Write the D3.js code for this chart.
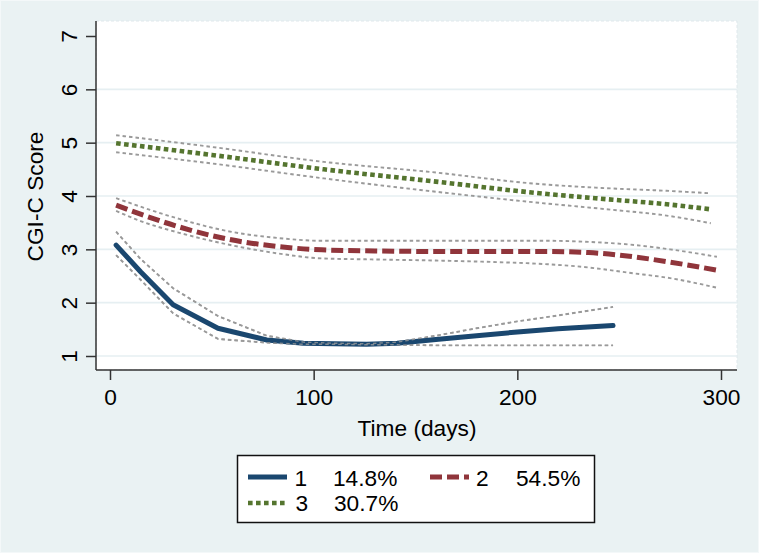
<!DOCTYPE html>
<html>
<head>
<meta charset="utf-8">
<script src="https://cdn.jsdelivr.net/npm/d3@7"></script>
<style>
  html, body { margin: 0; padding: 0; background: #eaf2f3; }
  svg { display: block; }
  text { font-family: "Liberation Sans", Arial, sans-serif; fill: #000; }
</style>
</head>
<body>
<svg id="chart" width="759" height="553"></svg>
<script>
// ---------- data ----------
const yTicks = [1, 2, 3, 4, 5, 6, 7];
const xTicks = [0, 100, 200, 300];

const s1Time  = [3, 15, 31, 53, 77, 95, 110, 126, 141, 160, 180, 200, 220, 247];
const s1Mean  = [3.08, 2.58, 1.96, 1.52, 1.30, 1.24, 1.23, 1.22, 1.24, 1.31, 1.38, 1.45, 1.51, 1.57];
const s1Upper = [3.33, 2.82, 2.27, 1.75, 1.38, 1.26, 1.24, 1.23, 1.26, 1.38, 1.52, 1.65, 1.76, 1.92];
const s1Lower = [2.89, 2.43, 1.80, 1.32, 1.25, 1.22, 1.22, 1.21, 1.21, 1.20, 1.20, 1.20, 1.20, 1.20];

const s2Time  = [3, 15, 34, 58, 83, 104, 130, 160, 190, 215, 235, 255, 275, 298];
const s2Mean  = [3.83, 3.66, 3.42, 3.19, 3.05, 2.99, 2.97, 2.96, 2.96, 2.96, 2.94, 2.87, 2.76, 2.61];
const s2Upper = [3.96, 3.80, 3.57, 3.34, 3.21, 3.16, 3.16, 3.16, 3.16, 3.16, 3.14, 3.09, 3.00, 2.86];
const s2Lower = [3.72, 3.53, 3.31, 3.09, 2.92, 2.83, 2.81, 2.79, 2.76, 2.72, 2.66, 2.56, 2.46, 2.28];

const s3Time  = [3, 50, 105, 160, 206, 247, 272, 295];
const s3Mean  = [4.99, 4.77, 4.50, 4.27, 4.07, 3.93, 3.85, 3.75];
const s3Upper = [5.14, 4.92, 4.64, 4.44, 4.24, 4.14, 4.10, 4.05];
const s3Lower = [4.82, 4.61, 4.33, 4.08, 3.89, 3.74, 3.64, 3.49];

const legendKeys = ["1", "2", "3"];
const legendPcts = ["14.8%", "54.5%", "30.7%"];
const seriesColors = ["#1a476f", "#90353b", "#55752f"];

// ---------- setup ----------
const svg = d3.select("#chart");
const W = 759, H = 553;
const plot = { left: 96, right: 737, top: 21, bottom: 370 };

const x = d3.scaleLinear().domain([0, 300]).range([110, 721]);
const y = d3.scaleLinear().domain([1, 7]).range([356, 36]);

// background
svg.append("rect").attr("x", 0).attr("y", 0).attr("width", W).attr("height", H)
  .attr("fill", "#eaf2f3");
svg.append("rect").attr("x", 0.5).attr("y", 0.5).attr("width", W - 1).attr("height", H - 1)
  .attr("fill", "none").attr("stroke", "#f4f8f9").attr("stroke-width", 1);

// plot region
svg.append("rect")
  .attr("x", plot.left).attr("y", plot.top)
  .attr("width", plot.right - plot.left).attr("height", plot.bottom - plot.top)
  .attr("fill", "#ffffff")
  .attr("stroke", "#dfe8ec").attr("stroke-width", 1).attr("stroke-dasharray", "3,2");

// gridlines (not at 7)
svg.append("g").selectAll("line")
  .data(yTicks.filter(d => d < 7))
  .join("line")
  .attr("x1", plot.left).attr("x2", plot.right)
  .attr("y1", d => y(d)).attr("y2", d => y(d))
  .attr("stroke", "#e6eff2").attr("stroke-width", 1.6);

// ---------- series ----------
function pts(t, v) { return t.map((d, i) => [d, v[i]]); }
const smooth = d3.line().x(d => x(d[0])).y(d => y(d[1])).curve(d3.curveMonotoneX);
const straight = d3.line().x(d => x(d[0])).y(d => y(d[1])).curve(d3.curveLinear);

const ciStyle = { stroke: "#9a9a9a", width: 1.9, dash: "3.5,3" };
const series = [
  { t: s1Time, m: s1Mean, u: s1Upper, l: s1Lower, color: seriesColors[0], width: 5, dash: null, cap: "round", gen: straight },
  { t: s2Time, m: s2Mean, u: s2Upper, l: s2Lower, color: seriesColors[1], width: 5, dash: "12,5", cap: "butt", gen: smooth },
  { t: s3Time, m: s3Mean, u: s3Upper, l: s3Lower, color: seriesColors[2], width: 4.6, dash: "4.6,3.4", cap: "butt", gen: smooth }
];

const g = svg.append("g");
series.forEach(s => {
  [s.u, s.l].forEach(band => {
    g.append("path")
      .attr("d", s.gen(pts(s.t, band)))
      .attr("fill", "none")
      .attr("stroke", ciStyle.stroke)
      .attr("stroke-width", ciStyle.width)
      .attr("stroke-dasharray", ciStyle.dash);
  });
});
series.forEach(s => {
  const p = g.append("path")
    .attr("d", s.gen(pts(s.t, s.m)))
    .attr("fill", "none")
    .attr("stroke", s.color)
    .attr("stroke-width", s.width)
    .attr("stroke-linecap", s.cap)
    .attr("stroke-linejoin", "round");
  if (s.dash) p.attr("stroke-dasharray", s.dash);
});
// CI of series 1 drawn over main line where they overlap (as in reference)
[s1Upper, s1Lower].forEach(band => {
  g.append("path")
    .attr("d", straight(pts(s1Time, band)))
    .attr("fill", "none")
    .attr("stroke", ciStyle.stroke)
    .attr("stroke-width", 1.4)
    .attr("stroke-dasharray", ciStyle.dash)
    .attr("opacity", 0.8);
});

// ---------- axes ----------
const axisColor = "#333333";
const yAxis = svg.append("g")
  .attr("transform", `translate(${plot.left},0)`)
  .call(d3.axisLeft(y).tickValues(yTicks).tickSize(10).tickFormat(d3.format("d")));
yAxis.select(".domain").attr("d", `M0,${plot.top}V${plot.bottom}`)
  .attr("stroke", axisColor).attr("stroke-width", 1.5);
yAxis.selectAll(".tick line").attr("stroke", axisColor).attr("stroke-width", 1.5);
yAxis.selectAll(".tick text")
  .attr("x", null).attr("dy", null)
  .attr("transform", "translate(-19.5,0) rotate(-90)")
  .attr("text-anchor", "middle")
  .style("font-size", "22.7px")
  .style("font-family", '"Liberation Sans", Arial, sans-serif')
  .attr("fill", "#000");

const xAxis = svg.append("g")
  .attr("transform", `translate(0,${plot.bottom})`)
  .call(d3.axisBottom(x).tickValues(xTicks).tickSize(10).tickFormat(d3.format("d")));
xAxis.select(".domain").attr("d", `M${plot.left},0H${plot.right}`)
  .attr("stroke", axisColor).attr("stroke-width", 1.5);
xAxis.selectAll(".tick line").attr("stroke", axisColor).attr("stroke-width", 1.5);
xAxis.selectAll(".tick text")
  .attr("y", 35).attr("dy", null)
  .style("font-size", "22.7px")
  .style("font-family", '"Liberation Sans", Arial, sans-serif')
  .attr("fill", "#000");

// axis titles
svg.append("text")
  .attr("transform", "translate(43,196.5) rotate(-90)")
  .attr("text-anchor", "middle")
  .style("font-size", "22.7px")
  .text("CGI-C Score");
svg.append("text")
  .attr("x", 417).attr("y", 436)
  .attr("text-anchor", "middle")
  .style("font-size", "22.7px")
  .text("Time (days)");

// ---------- legend ----------
const lg = svg.append("g");
lg.append("rect")
  .attr("x", 237.5).attr("y", 455.5).attr("width", 357).attr("height", 67)
  .attr("fill", "#ffffff").attr("stroke", "#111").attr("stroke-width", 1.5);

const legendPos = [
  { sx: 248, sy: 477, kx: 294.5, px: 333, ty: 485.7 },
  { sx: 430, sy: 477, kx: 476, px: 516, ty: 485.7 },
  { sx: 248, sy: 503, kx: 295.5, px: 334, ty: 510.7 }
];
series.forEach((s, i) => {
  const p = legendPos[i];
  const l = lg.append("line")
    .attr("x1", p.sx).attr("x2", p.sx + 39)
    .attr("y1", p.sy).attr("y2", p.sy)
    .attr("stroke", s.color).attr("stroke-width", s.width)
    .attr("stroke-linecap", "butt");
  if (s.dash) l.attr("stroke-dasharray", s.dash);
  lg.append("text").attr("x", p.kx).attr("y", p.ty)
    .style("font-size", "22.7px").text(legendKeys[i]);
  lg.append("text").attr("x", p.px).attr("y", p.ty)
    .style("font-size", "22.7px").text(legendPcts[i]);
});
</script>
</body>
</html>
